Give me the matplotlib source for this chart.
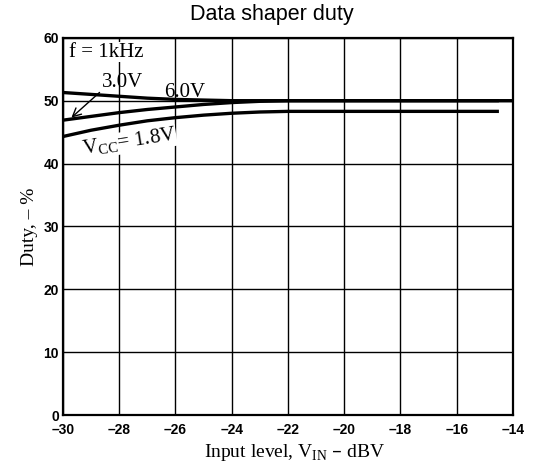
import matplotlib
matplotlib.use("Agg")
import matplotlib.pyplot as plt

# input level (dBV) and duty (%) for each supply voltage
x_6v = [-30, -29, -28, -27, -26, -25, -24, -14]
y_6v = [51.3, 51.0, 50.7, 50.4, 50.2, 50.1, 50.0, 50.0]

x_3v = [-30, -29, -28, -27, -26, -25, -24, -23, -22, -14.5]
y_3v = [46.9, 47.5, 48.1, 48.6, 49.0, 49.4, 49.7, 49.9, 50.0, 50.0]

x_18v = [-30, -29, -28, -27, -26, -25, -24, -23, -22, -20, -14.5]
y_18v = [44.3, 45.3, 46.1, 46.8, 47.3, 47.7, 48.0, 48.2, 48.3, 48.3, 48.3]

xticks = list(range(-30, -13, 2))
yticks = [0, 10, 20, 30, 40, 50, 60]

fig = plt.figure(figsize=(5.38, 4.68), dpi=100)
ax = fig.add_axes([0.117, 0.1132, 0.8365, 0.806])

for xs, ys in [(x_6v, y_6v), (x_3v, y_3v), (x_18v, y_18v)]:
    ax.plot(xs, ys, color="black", lw=2.4, solid_capstyle="butt", zorder=3)

ax.set_xlim(-30, -14)
ax.set_ylim(0, 60)
ax.set_xticks(xticks)
ax.set_yticks(yticks)
ax.set_xticklabels([f"\u2013{abs(v)}" for v in xticks], fontweight="bold",
                   family="Liberation Sans", fontsize=10)
ax.set_yticklabels([str(v) for v in yticks], fontweight="bold",
                   family="Liberation Sans", fontsize=10)
ax.tick_params(axis="x", length=0, pad=6)
ax.tick_params(axis="y", length=0, pad=3)
ax.grid(True, color="black", lw=1.0)
for s in ax.spines.values():
    s.set_linewidth(1.6)

serif = "Liberation Serif"
ax.set_xlabel("Input level, V$_{\\mathregular{IN}}$ \u2013 dBV",
              family=serif, fontsize=14, labelpad=3, x=0.515)
ax.set_ylabel("Duty, \u2013 %", family=serif, fontsize=14, labelpad=4)
ax.set_title("Data shaper duty", family="Liberation Sans", fontsize=15.5,
             pad=13, x=0.465)

ax.text(-29.8, 57.0, "f = 1kHz", family=serif, fontsize=15, va="baseline",
        bbox=dict(facecolor="white", edgecolor="none", pad=0.3), zorder=4)
ax.annotate("3.0V", xy=(-29.7, 47.3), xytext=(-28.6, 52.2),
            family=serif, fontsize=15, va="baseline",
            arrowprops=dict(arrowstyle="->", color="black", lw=1.0,
                            shrinkA=0, shrinkB=0, relpos=(0.0, 0.1)))
ax.text(-26.4, 50.6, "6.0V", family=serif, fontsize=15, va="baseline")
ax.text(-29.3, 41.4, "V$_{\\mathregular{CC}}$= 1.8V", family=serif, fontsize=15,
        rotation=9, rotation_mode="anchor", ha="left", va="baseline", zorder=2,
        bbox=dict(facecolor="white", edgecolor="none", pad=0.2))

fig.savefig("out.png", dpi=100)
